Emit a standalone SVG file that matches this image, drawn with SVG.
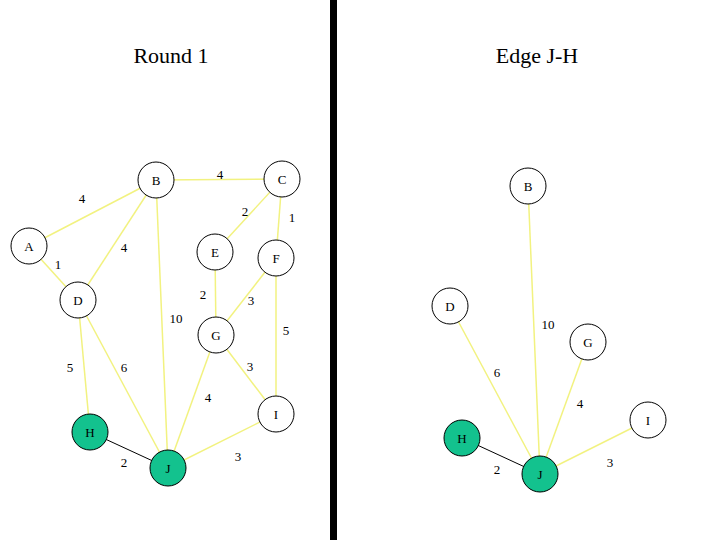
<svg xmlns="http://www.w3.org/2000/svg" width="720" height="540" viewBox="0 0 720 540">
<style>
text{font-family:"Liberation Serif","Times New Roman",serif;fill:#000}
.t{font-size:22px;text-anchor:middle}
.n{font-size:13px;text-anchor:middle}
.w{font-size:13px;text-anchor:middle}
.e{stroke:#F2F280;stroke-width:1.5;fill:none}
.k{stroke:#000;stroke-width:1;fill:none}
.c{fill:#fff;stroke:#000;stroke-width:1}
.g{fill:#13C28E;stroke:#000;stroke-width:1}
</style>
<rect width="720" height="540" fill="#fff"/>
<rect x="330" y="0" width="7" height="540" fill="#000"/>
<text class="t" x="171" y="63">Round 1</text>
<text class="t" x="537" y="63">Edge J-H</text>
<g id="connectors">
<line class="e" x1="29" y1="246" x2="156" y2="180"/>
<line class="e" x1="156" y1="180" x2="282" y2="179"/>
<line class="e" x1="156" y1="180" x2="78" y2="300"/>
<line class="e" x1="156" y1="180" x2="168" y2="468"/>
<line class="e" x1="282" y1="179" x2="215" y2="252"/>
<line class="e" x1="282" y1="179" x2="276" y2="258"/>
<line class="e" x1="29" y1="246" x2="78" y2="300"/>
<line class="e" x1="215" y1="252" x2="216" y2="335"/>
<line class="e" x1="276" y1="258" x2="216" y2="335"/>
<line class="e" x1="276" y1="258" x2="276" y2="414"/>
<line class="e" x1="78" y1="300" x2="90" y2="432"/>
<line class="e" x1="78" y1="300" x2="168" y2="468"/>
<line class="e" x1="216" y1="335" x2="168" y2="468"/>
<line class="e" x1="216" y1="335" x2="276" y2="414"/>
<line class="e" x1="276" y1="414" x2="168" y2="468"/>
<line class="k" x1="90" y1="432" x2="168" y2="468"/>
<line class="e" x1="528" y1="186" x2="540" y2="474"/>
<line class="e" x1="450" y1="306" x2="540" y2="474"/>
<line class="e" x1="588" y1="342" x2="540" y2="474"/>
<line class="e" x1="648" y1="420" x2="540" y2="474"/>
<line class="k" x1="462" y1="438" x2="540" y2="474"/>
</g>
<g id="weights">
<text class="w" x="82" y="203">4</text>
<text class="w" x="220" y="179">4</text>
<text class="w" x="245" y="216">2</text>
<text class="w" x="292" y="222">1</text>
<text class="w" x="124" y="252">4</text>
<text class="w" x="58" y="269">1</text>
<text class="w" x="203" y="299">2</text>
<text class="w" x="251" y="305">3</text>
<text class="w" x="176" y="323">10</text>
<text class="w" x="286" y="335">5</text>
<text class="w" x="70" y="372">5</text>
<text class="w" x="124" y="372">6</text>
<text class="w" x="250" y="371">3</text>
<text class="w" x="208" y="402">4</text>
<text class="w" x="124" y="467">2</text>
<text class="w" x="238" y="461">3</text>
<text class="w" x="548" y="329">10</text>
<text class="w" x="497" y="377">6</text>
<text class="w" x="580" y="408">4</text>
<text class="w" x="497" y="474">2</text>
<text class="w" x="610" y="467">3</text>
</g>
<g id="L-A"><circle class="c" cx="29" cy="246" r="18"/><text class="n" x="29" y="251">A</text></g>
<g id="L-B"><circle class="c" cx="156" cy="180" r="18"/><text class="n" x="156" y="185">B</text></g>
<g id="L-C"><circle class="c" cx="282" cy="179" r="18"/><text class="n" x="282" y="184">C</text></g>
<g id="L-D"><circle class="c" cx="78" cy="300" r="18"/><text class="n" x="78" y="305">D</text></g>
<g id="L-E"><circle class="c" cx="215" cy="252" r="18"/><text class="n" x="215" y="257">E</text></g>
<g id="L-F"><circle class="c" cx="276" cy="258" r="18"/><text class="n" x="276" y="263">F</text></g>
<g id="L-G"><circle class="c" cx="216" cy="335" r="18"/><text class="n" x="216" y="340">G</text></g>
<g id="L-I"><circle class="c" cx="276" cy="414" r="18"/><text class="n" x="276" y="419">I</text></g>
<g id="L-H"><circle class="g" cx="90" cy="432" r="18"/><text class="n" x="90" y="437">H</text></g>
<g id="L-J"><circle class="g" cx="168" cy="468" r="18"/><text class="n" x="168" y="473">J</text></g>
<g id="R-B"><circle class="c" cx="528" cy="186" r="18"/><text class="n" x="528" y="191">B</text></g>
<g id="R-D"><circle class="c" cx="450" cy="306" r="18"/><text class="n" x="450" y="311">D</text></g>
<g id="R-G"><circle class="c" cx="588" cy="342" r="18"/><text class="n" x="588" y="347">G</text></g>
<g id="R-I"><circle class="c" cx="648" cy="420" r="18"/><text class="n" x="648" y="425">I</text></g>
<g id="R-H"><circle class="g" cx="462" cy="438" r="18"/><text class="n" x="462" y="443">H</text></g>
<g id="R-J"><circle class="g" cx="540" cy="474" r="18"/><text class="n" x="540" y="479">J</text></g>
</svg>
